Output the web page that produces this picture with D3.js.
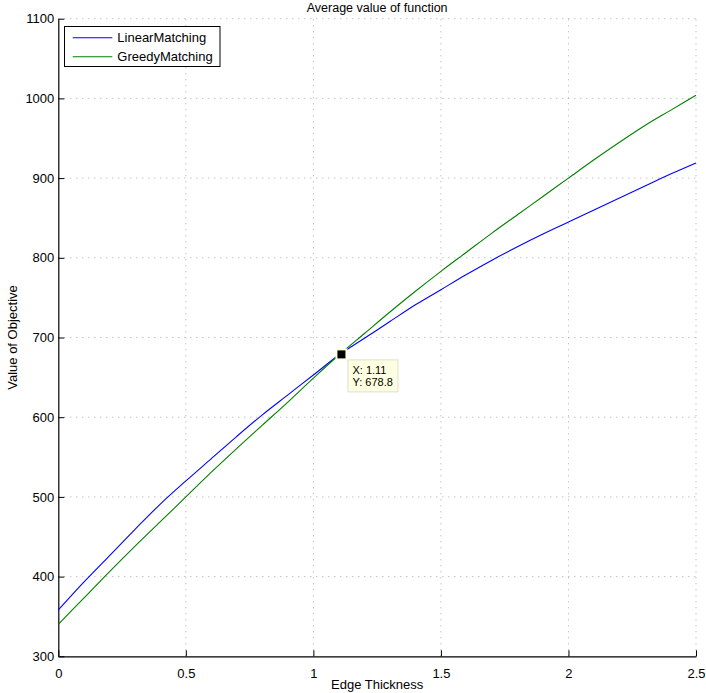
<!DOCTYPE html>
<html><head><meta charset="utf-8">
<script src="https://cdn.jsdelivr.net/npm/d3@7"></script>
<style>
body{margin:0;background:#fff;}
text{font-family:"Liberation Sans",Arial,Helvetica,sans-serif;}
</style></head>
<body><svg id="c" width="706" height="693"></svg>
<script>
const xs = [0,0.1,0.2,0.3,0.4,0.5,0.6,0.7,0.8,0.9,1.0,1.1,1.2,1.3,1.4,1.5,1.6,1.7,1.8,1.9,2.0,2.1,2.2,2.3,2.4,2.5];
const linearMatching = [358,393,426,459,491,520,548,576,603,628,653,678,699,720,741,760,779,797,814,830,845,860,875,890,905,919];
const greedyMatching = [340,373,406,438,469,500,531,561,590,619,649,678,705,732,758,783,807,831,854,877,900,923,945,966,985,1004];
const xTicks = [0,0.5,1,1.5,2,2.5];
const yTicks = [300,400,500,600,700,800,900,1000,1100];
const seriesNames = ["LinearMatching","GreedyMatching"];
const seriesColors = ["#0000ff","#008000"];
const tipPoint = {x:1.11, y:678.8};

const svg = d3.select("#c");
const L=58.3, R=696, T=18.7, B=656.3;
const x = d3.scaleLinear().domain([0,2.5]).range([L,R]);
const y = d3.scaleLinear().domain([300,1100]).range([B,T]);

// grid
const g = svg.append("g");
g.selectAll(".vx").data(xTicks.filter(d=>d>0)).enter().append("line")
 .attr("x1",d=>x(d)).attr("x2",d=>x(d)).attr("y1",B).attr("y2",T)
 .attr("stroke","#a8a8a8").attr("stroke-width",1).attr("stroke-dasharray","1,5");
g.selectAll(".hy").data(yTicks.filter(d=>d>300)).enter().append("line")
 .attr("y1",d=>y(d)).attr("y2",d=>y(d)).attr("x1",L).attr("x2",R)
 .attr("stroke","#a8a8a8").attr("stroke-width",1).attr("stroke-dasharray","1,5");

// axes
const xAxis = d3.axisBottom(x).tickValues(xTicks).tickFormat(d=>String(d)).tickSizeInner(-6).tickSizeOuter(0).tickPadding(12);
const yAxis = d3.axisLeft(y).tickValues(yTicks).tickFormat(d=>String(d)).tickSizeInner(-6).tickSizeOuter(0).tickPadding(4);
const ax = svg.append("g").attr("transform",`translate(0,${B})`).call(xAxis);
const ay = svg.append("g").attr("transform",`translate(${L},0)`).call(yAxis);
[ax,ay].forEach(a=>{
  a.select(".domain").attr("stroke","#000").attr("stroke-width",1.2);
  a.selectAll(".tick line").attr("stroke","#000");
  a.selectAll("text").attr("fill","#000").style("font-size","13px").style("font-family",'"Liberation Sans",Arial,sans-serif');
});
ax.selectAll("text").attr("dy","0.71em");

// lines
const line = d3.line().x((d,i)=>x(xs[i])).y(d=>y(d)).curve(d3.curveMonotoneX);
[linearMatching,greedyMatching].forEach((s,k)=>{
  svg.append("path").datum(s).attr("d",line).attr("fill","none")
   .attr("stroke",seriesColors[k]).attr("stroke-width",1.1);
});

// data tip
const mx=x(tipPoint.x), my=y(tipPoint.y);
svg.append("rect").attr("x",mx-6).attr("y",my-6).attr("width",12).attr("height",12).attr("fill","#ffffe1");
svg.append("rect").attr("x",mx-4).attr("y",my-4).attr("width",8).attr("height",8).attr("fill","#000");
svg.append("rect").attr("x",mx+6.5).attr("y",my+5.5).attr("width",50).attr("height",32)
 .attr("fill","#ffffe1").attr("stroke","#e0e0c8").attr("stroke-width",1);
svg.append("text").attr("x",mx+11).attr("y",my+20).style("font-size","11px").text("X: "+tipPoint.x.toFixed(2));
svg.append("text").attr("x",mx+11).attr("y",my+32).style("font-size","11px").text("Y: "+tipPoint.y.toFixed(1));

// legend
const lg = svg.append("g");
lg.append("rect").attr("x",64.5).attr("y",26.5).attr("width",155.5).attr("height",40)
 .attr("fill","#fff").attr("stroke","#000").attr("stroke-width",1);
seriesNames.forEach((n,i)=>{
  const yy = 37.7 + i*19;
  lg.append("line").attr("x1",72.7).attr("x2",112.3).attr("y1",yy).attr("y2",yy).attr("stroke",seriesColors[i]).attr("stroke-width",1.1);
  lg.append("text").attr("x",117.3).attr("y",yy).attr("dy","0.36em").style("font-size","13px").text(n);
});

// titles
svg.append("text").attr("x",(L+R)/2).attr("y",12).attr("text-anchor","middle").style("font-size","12.5px").text("Average value of function");
svg.append("text").attr("x",(L+R)/2).attr("y",689).attr("text-anchor","middle").style("font-size","13px").text("Edge Thickness");
svg.append("text").attr("transform",`translate(17,${(T+B)/2}) rotate(-90)`).attr("text-anchor","middle").style("font-size","13px").text("Value of Objective");
</script></body></html>
